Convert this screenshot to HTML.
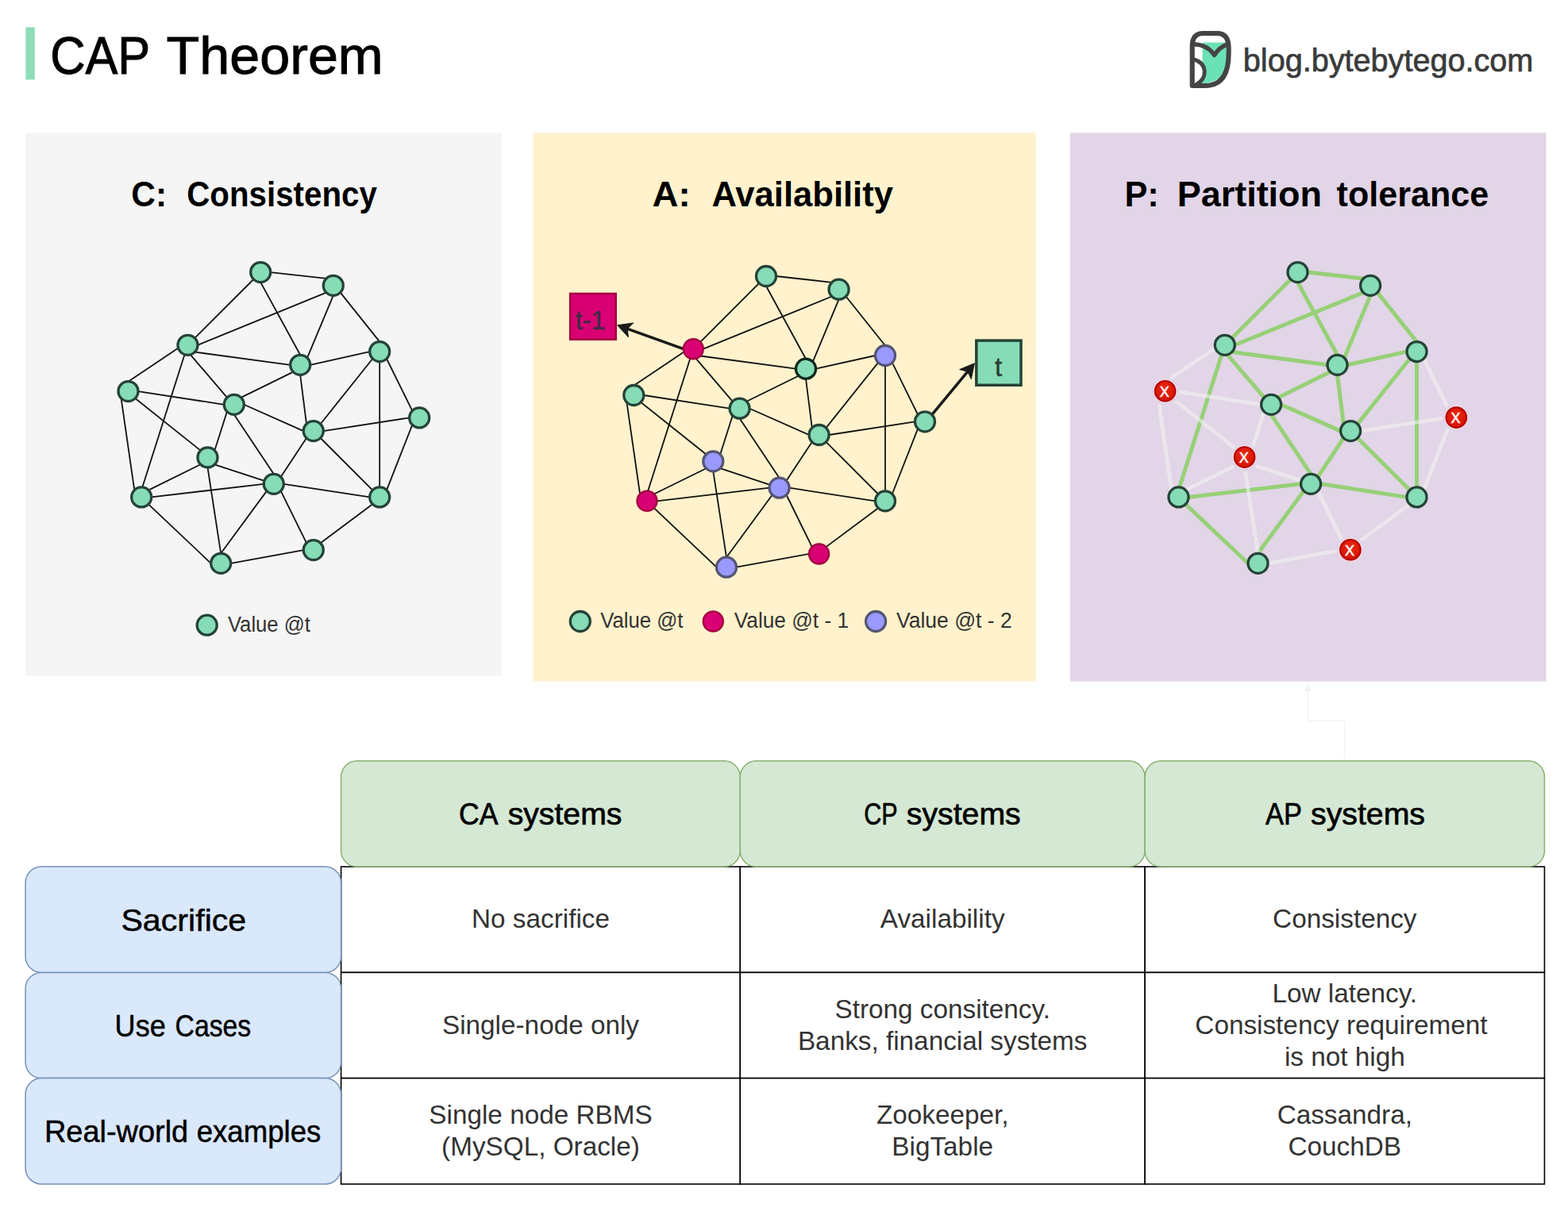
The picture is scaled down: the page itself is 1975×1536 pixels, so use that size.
<!DOCTYPE html>
<html lang="en"><head><meta charset="utf-8"><title>CAP Theorem</title>
<style>
html,body{margin:0;padding:0;background:#fff;}
body{width:1975px;height:1536px;overflow:hidden;font-family:"Liberation Sans",sans-serif;}
svg{display:block}
text{font-family:"Liberation Sans",sans-serif;}
</style></head><body>
<svg width="1975" height="1536" viewBox="0 0 1975 1536">
<defs>
<radialGradient id="redg" cx="50%" cy="40%" r="60%"><stop offset="0" stop-color="#f02a14"/><stop offset="1" stop-color="#d31200"/></radialGradient>
</defs>
<rect width="1975" height="1536" fill="#ffffff"/>

<rect x="32.4" y="34.4" width="11.4" height="66" fill="#8edcb8"/>
<text y="93.4" font-size="66" font-weight="normal" font-style="normal" fill="#000" stroke="#000" stroke-width="1.0"><tspan x="63.14" y="93.4" textLength="124.97" lengthAdjust="spacingAndGlyphs">CAP</tspan> <tspan x="209.57" y="93.4" textLength="273.15" lengthAdjust="spacingAndGlyphs">Theorem</tspan></text>
<g transform="translate(1485,30) scale(0.05862)">
<path d="M505 430 Q505 400 535 400 L1010 400 L1030 800 Q1010 1260 430 1300 Q640 1000 505 800 Z" fill="#6be2b5"/>
<path d="M285 1330 L285 480 Q285 205 520 205 L820 205 Q1068 205 1068 520 L1068 640 Q1068 1330 560 1330 Z" fill="none" stroke="#444" stroke-width="104" stroke-linejoin="round"/>
<path d="M320 440 Q620 450 760 675 Q860 510 1020 450" fill="none" stroke="#444" stroke-width="92" stroke-linejoin="round" stroke-linecap="round"/>
<path d="M320 765 Q545 830 550 1030 Q550 1200 380 1300" fill="none" stroke="#444" stroke-width="84" stroke-linecap="round"/>
</g>
<text y="89.6" font-size="40" font-weight="normal" font-style="normal" fill="#3a3a3a" stroke="#3a3a3a" stroke-width="0.7"><tspan x="1565.82" y="89.6" textLength="365.49" lengthAdjust="spacingAndGlyphs">blog.bytebytego.com</tspan></text>
<rect x="32.3" y="167.3" width="599.6" height="684.6" fill="#f5f5f5"/>
<rect x="672" y="167.3" width="632.6" height="691.3" fill="#fff2cc"/>
<rect x="1348" y="167.3" width="599.5" height="691.3" fill="#e1d5e7"/>
<text y="260" font-size="44" font-weight="bold" font-style="normal" fill="#000"><tspan x="165.34" y="260" textLength="44.78" lengthAdjust="spacingAndGlyphs">C:</tspan> <tspan x="235.28" y="260" textLength="239.59" lengthAdjust="spacingAndGlyphs">Consistency</tspan></text>
<text y="260" font-size="44" font-weight="bold" font-style="normal" fill="#000"><tspan x="821.46" y="260" textLength="48.21" lengthAdjust="spacingAndGlyphs">A:</tspan> <tspan x="896.51" y="260" textLength="228.48" lengthAdjust="spacingAndGlyphs">Availability</tspan></text>
<text y="260" font-size="44" font-weight="bold" font-style="normal" fill="#000"><tspan x="1416.43" y="260" textLength="43.31" lengthAdjust="spacingAndGlyphs">P:</tspan> <tspan x="1482.76" y="260" textLength="182.25" lengthAdjust="spacingAndGlyphs">Partition</tspan> <tspan x="1683.6" y="260" textLength="191.53" lengthAdjust="spacingAndGlyphs">tolerance</tspan></text>
<g stroke="#111" stroke-width="1.8" stroke-linecap="butt">
<line x1="340.7" y1="343.1" x2="411.0" y2="350.9"/>
<line x1="319.3" y1="352.0" x2="245.4" y2="425.9"/>
<line x1="328.2" y1="355.6" x2="378.2" y2="447.3"/>
<line x1="411.0" y1="368.6" x2="249.0" y2="434.8"/>
<line x1="419.8" y1="372.3" x2="387.0" y2="450.9"/>
<line x1="428.7" y1="368.6" x2="478.2" y2="430.6"/>
<line x1="245.4" y1="443.6" x2="365.7" y2="459.8"/>
<line x1="224.6" y1="438.6" x2="162.0" y2="480.6"/>
<line x1="239.8" y1="446.8" x2="286.0" y2="500.9"/>
<line x1="232.6" y1="446.6" x2="179.3" y2="613.9"/>
<line x1="390.7" y1="459.8" x2="465.7" y2="443.1"/>
<line x1="369.3" y1="468.6" x2="303.7" y2="500.9"/>
<line x1="378.2" y1="472.3" x2="386.0" y2="534.2"/>
<line x1="469.3" y1="452.0" x2="403.7" y2="534.2"/>
<line x1="487.0" y1="452.0" x2="519.3" y2="517.6"/>
<line x1="478.2" y1="455.6" x2="478.2" y2="613.9"/>
<line x1="174.0" y1="493.1" x2="282.3" y2="509.8"/>
<line x1="170.4" y1="502.0" x2="252.6" y2="567.6"/>
<line x1="152.6" y1="502.0" x2="169.3" y2="617.6"/>
<line x1="307.3" y1="509.8" x2="382.3" y2="543.1"/>
<line x1="286.0" y1="518.6" x2="270.4" y2="567.6"/>
<line x1="294.8" y1="522.3" x2="344.8" y2="597.3"/>
<line x1="407.3" y1="543.1" x2="515.7" y2="526.4"/>
<line x1="386.0" y1="552.0" x2="353.7" y2="600.9"/>
<line x1="403.7" y1="552.0" x2="469.3" y2="617.6"/>
<line x1="519.3" y1="535.3" x2="487.0" y2="617.6"/>
<line x1="270.4" y1="585.3" x2="333.0" y2="605.9"/>
<line x1="252.6" y1="585.3" x2="187.0" y2="617.6"/>
<line x1="261.5" y1="588.9" x2="278.2" y2="697.3"/>
<line x1="332.3" y1="609.8" x2="190.7" y2="626.4"/>
<line x1="357.3" y1="609.8" x2="465.7" y2="626.4"/>
<line x1="336.0" y1="618.6" x2="278.2" y2="697.3"/>
<line x1="353.7" y1="618.6" x2="386.0" y2="684.2"/>
<line x1="187.0" y1="635.3" x2="265.7" y2="709.8"/>
<line x1="469.3" y1="635.3" x2="403.7" y2="684.2"/>
<line x1="290.7" y1="709.8" x2="382.3" y2="693.1"/>
</g>
<circle cx="161.5" cy="493.1" r="12.5" fill="#86dcb6" stroke="#254338" stroke-width="3.33"/>
<circle cx="178.2" cy="626.4" r="12.5" fill="#86dcb6" stroke="#254338" stroke-width="3.33"/>
<circle cx="236.5" cy="434.8" r="12.5" fill="#86dcb6" stroke="#254338" stroke-width="3.33"/>
<circle cx="261.5" cy="576.4" r="12.5" fill="#86dcb6" stroke="#254338" stroke-width="3.33"/>
<circle cx="278.2" cy="709.8" r="12.5" fill="#86dcb6" stroke="#254338" stroke-width="3.33"/>
<circle cx="294.8" cy="509.8" r="12.5" fill="#86dcb6" stroke="#254338" stroke-width="3.33"/>
<circle cx="328.2" cy="343.1" r="12.5" fill="#86dcb6" stroke="#254338" stroke-width="3.33"/>
<circle cx="344.8" cy="609.8" r="12.5" fill="#86dcb6" stroke="#254338" stroke-width="3.33"/>
<circle cx="378.2" cy="459.8" r="12.5" fill="#86dcb6" stroke="#254338" stroke-width="3.33"/>
<circle cx="394.8" cy="543.1" r="12.5" fill="#86dcb6" stroke="#254338" stroke-width="3.33"/>
<circle cx="394.8" cy="693.1" r="12.5" fill="#86dcb6" stroke="#254338" stroke-width="3.33"/>
<circle cx="419.8" cy="359.8" r="12.5" fill="#86dcb6" stroke="#254338" stroke-width="3.33"/>
<circle cx="478.2" cy="443.1" r="12.5" fill="#86dcb6" stroke="#254338" stroke-width="3.33"/>
<circle cx="478.2" cy="626.4" r="12.5" fill="#86dcb6" stroke="#254338" stroke-width="3.33"/>
<circle cx="528.2" cy="526.4" r="12.5" fill="#86dcb6" stroke="#254338" stroke-width="3.33"/>
<line x1="861.5" y1="439.8" x2="789.8" y2="414.2" stroke="#1a1a1a" stroke-width="3.5"/><path d="M777.6 409.8 L797.7 406.9 L790.3 414.3 L791.4 424.8 Z" fill="#1a1a1a" stroke="#1a1a1a" stroke-width="1" stroke-linejoin="miter"/>
<line x1="1174.0" y1="522.4" x2="1219.1" y2="467.8" stroke="#1a1a1a" stroke-width="3.5"/><path d="M1227.4 457.8 L1223.3 477.7 L1218.8 468.2 L1208.6 465.6 Z" fill="#1a1a1a" stroke="#1a1a1a" stroke-width="1" stroke-linejoin="miter"/>
<g stroke="#111" stroke-width="1.8" stroke-linecap="butt">
<line x1="977.5" y1="348.0" x2="1047.8" y2="355.8"/>
<line x1="956.1" y1="356.9" x2="882.2" y2="430.8"/>
<line x1="965.0" y1="360.5" x2="1015.0" y2="452.2"/>
<line x1="1047.8" y1="373.5" x2="885.8" y2="439.7"/>
<line x1="1056.6" y1="377.2" x2="1023.8" y2="455.8"/>
<line x1="1065.5" y1="373.5" x2="1115.0" y2="435.5"/>
<line x1="882.2" y1="448.5" x2="1002.5" y2="464.7"/>
<line x1="861.4" y1="443.5" x2="798.8" y2="485.5"/>
<line x1="876.5" y1="451.7" x2="922.8" y2="505.8"/>
<line x1="869.4" y1="451.5" x2="816.1" y2="618.8"/>
<line x1="1027.5" y1="464.7" x2="1102.5" y2="448.0"/>
<line x1="1006.1" y1="473.5" x2="940.5" y2="505.8"/>
<line x1="1015.0" y1="477.2" x2="1022.8" y2="539.1"/>
<line x1="1106.1" y1="456.9" x2="1040.5" y2="539.1"/>
<line x1="1123.8" y1="456.9" x2="1156.1" y2="522.5"/>
<line x1="1115.0" y1="460.5" x2="1115.0" y2="618.8"/>
<line x1="810.8" y1="498.0" x2="919.1" y2="514.7"/>
<line x1="807.2" y1="506.9" x2="889.4" y2="572.5"/>
<line x1="789.4" y1="506.9" x2="806.1" y2="622.5"/>
<line x1="944.1" y1="514.7" x2="1019.1" y2="548.0"/>
<line x1="922.8" y1="523.5" x2="907.2" y2="572.5"/>
<line x1="931.6" y1="527.2" x2="981.6" y2="602.2"/>
<line x1="1044.1" y1="548.0" x2="1152.5" y2="531.3"/>
<line x1="1022.8" y1="556.9" x2="990.5" y2="605.8"/>
<line x1="1040.5" y1="556.9" x2="1106.1" y2="622.5"/>
<line x1="1156.1" y1="540.2" x2="1123.8" y2="622.5"/>
<line x1="907.2" y1="590.2" x2="969.8" y2="610.8"/>
<line x1="889.4" y1="590.2" x2="823.8" y2="622.5"/>
<line x1="898.3" y1="593.8" x2="915.0" y2="702.2"/>
<line x1="969.1" y1="614.7" x2="827.5" y2="631.3"/>
<line x1="994.1" y1="614.7" x2="1102.5" y2="631.3"/>
<line x1="972.8" y1="623.5" x2="915.0" y2="702.2"/>
<line x1="990.5" y1="623.5" x2="1022.8" y2="689.1"/>
<line x1="823.8" y1="640.2" x2="902.5" y2="714.7"/>
<line x1="1106.1" y1="640.2" x2="1040.5" y2="689.1"/>
<line x1="927.5" y1="714.7" x2="1019.1" y2="698.0"/>
</g>
<circle cx="798.3" cy="498.0" r="12.5" fill="#86dcb6" stroke="#254338" stroke-width="3.33"/>
<circle cx="815.0" cy="631.3" r="12.5" fill="#d80073" stroke="#a50040" stroke-width="2.4"/>
<circle cx="873.3" cy="439.7" r="12.5" fill="#d80073" stroke="#a50040" stroke-width="2.4"/>
<circle cx="898.3" cy="581.3" r="12.5" fill="#9999ff" stroke="#555573" stroke-width="3.3"/>
<circle cx="915.0" cy="714.7" r="12.5" fill="#9999ff" stroke="#555573" stroke-width="3.3"/>
<circle cx="931.6" cy="514.7" r="12.5" fill="#86dcb6" stroke="#254338" stroke-width="3.33"/>
<circle cx="965.0" cy="348.0" r="12.5" fill="#86dcb6" stroke="#254338" stroke-width="3.33"/>
<circle cx="981.6" cy="614.7" r="12.5" fill="#9999ff" stroke="#555573" stroke-width="3.3"/>
<circle cx="1015.0" cy="464.7" r="12.5" fill="#86dcb6" stroke="#10281d" stroke-width="3.33"/>
<circle cx="1031.6" cy="548.0" r="12.5" fill="#86dcb6" stroke="#254338" stroke-width="3.33"/>
<circle cx="1031.6" cy="698.0" r="12.5" fill="#d80073" stroke="#a50040" stroke-width="2.4"/>
<circle cx="1056.6" cy="364.7" r="12.5" fill="#86dcb6" stroke="#254338" stroke-width="3.33"/>
<circle cx="1115.0" cy="448.0" r="12.5" fill="#9999ff" stroke="#555573" stroke-width="3.3"/>
<circle cx="1115.0" cy="631.3" r="12.5" fill="#86dcb6" stroke="#254338" stroke-width="3.33"/>
<circle cx="1165.0" cy="531.3" r="12.5" fill="#86dcb6" stroke="#254338" stroke-width="3.33"/>
<rect x="718.2" y="370" width="57.5" height="57.7" fill="#d80073" stroke="#a50040" stroke-width="2.6"/>
<text x="743.6" y="414.8" font-size="32.5" text-anchor="middle" font-weight="normal" font-style="normal" fill="#3f2a45" stroke="#3f2a45" stroke-width="0.5">t-1</text>
<rect x="1229.8" y="429.1" width="56.2" height="56.2" fill="#86dcb6" stroke="#254338" stroke-width="3.5"/>
<text x="1257.6" y="473.5" font-size="33" text-anchor="middle" font-weight="normal" font-style="normal" fill="#2a4036" stroke="#2a4036" stroke-width="0.5">t</text>
<g stroke="#97d077" stroke-width="5">
<line x1="1647.0" y1="343.1" x2="1717.3" y2="350.9"/>
<line x1="1625.6" y1="352.0" x2="1551.7" y2="425.9"/>
<line x1="1634.5" y1="355.6" x2="1684.5" y2="447.3"/>
<line x1="1717.3" y1="368.6" x2="1555.3" y2="434.8"/>
<line x1="1726.1" y1="372.3" x2="1693.3" y2="450.9"/>
<line x1="1735.0" y1="368.6" x2="1784.5" y2="430.6"/>
<line x1="1551.7" y1="443.6" x2="1672.0" y2="459.8"/>
<line x1="1546.0" y1="446.8" x2="1592.3" y2="500.9"/>
<line x1="1538.9" y1="446.6" x2="1485.6" y2="613.9"/>
<line x1="1697.0" y1="459.8" x2="1772.0" y2="443.1"/>
<line x1="1675.6" y1="468.6" x2="1610.0" y2="500.9"/>
<line x1="1684.5" y1="472.3" x2="1692.3" y2="534.2"/>
<line x1="1775.6" y1="452.0" x2="1710.0" y2="534.2"/>
<line x1="1784.5" y1="455.6" x2="1784.5" y2="613.9"/>
<line x1="1613.6" y1="509.8" x2="1688.6" y2="543.1"/>
<line x1="1601.1" y1="522.3" x2="1651.1" y2="597.3"/>
<line x1="1692.3" y1="552.0" x2="1660.0" y2="600.9"/>
<line x1="1710.0" y1="552.0" x2="1775.6" y2="617.6"/>
<line x1="1638.6" y1="609.8" x2="1497.0" y2="626.4"/>
<line x1="1663.6" y1="609.8" x2="1772.0" y2="626.4"/>
<line x1="1642.3" y1="618.6" x2="1584.5" y2="697.3"/>
<line x1="1493.3" y1="635.3" x2="1572.0" y2="709.8"/>
</g>
<g stroke="#f2f2f2" stroke-width="4.8" stroke-opacity="0.6">
<line x1="1530.9" y1="438.6" x2="1474.1" y2="476.7"/>
<line x1="1793.3" y1="452.0" x2="1823.3" y2="512.9"/>
<line x1="1485.3" y1="493.9" x2="1588.6" y2="509.8"/>
<line x1="1480.6" y1="505.1" x2="1555.0" y2="564.4"/>
<line x1="1459.9" y1="508.8" x2="1475.6" y2="617.6"/>
<line x1="1592.3" y1="518.6" x2="1578.3" y2="562.4"/>
<line x1="1713.6" y1="543.1" x2="1816.9" y2="527.2"/>
<line x1="1823.7" y1="540.2" x2="1793.3" y2="617.6"/>
<line x1="1581.8" y1="587.0" x2="1639.3" y2="605.9"/>
<line x1="1554.3" y1="587.6" x2="1493.3" y2="617.6"/>
<line x1="1568.6" y1="594.0" x2="1584.5" y2="697.3"/>
<line x1="1660.0" y1="618.6" x2="1690.0" y2="679.6"/>
<line x1="1775.6" y1="635.3" x2="1714.0" y2="681.2"/>
<line x1="1597.0" y1="709.8" x2="1683.6" y2="694.0"/>
</g>
<circle cx="1467.6" cy="492.8" r="14.4" fill="none" stroke="#ffd9d9" stroke-opacity="0.7" stroke-width="1.2"/><circle cx="1467.6" cy="492.8" r="12.8" fill="url(#redg)" stroke="#b20000" stroke-width="2"/>
<text x="1466.8" y="499.9" text-anchor="middle" font-size="18" fill="#ffffff" stroke="#ffffff" stroke-width="0.5">X</text>
<circle cx="1484.5" cy="626.4" r="12.5" fill="#86dcb6" stroke="#254338" stroke-width="3.33"/>
<circle cx="1542.8" cy="434.8" r="12.5" fill="#86dcb6" stroke="#254338" stroke-width="3.33"/>
<circle cx="1567.6" cy="576.1" r="14.4" fill="none" stroke="#ffd9d9" stroke-opacity="0.7" stroke-width="1.2"/><circle cx="1567.6" cy="576.1" r="12.8" fill="url(#redg)" stroke="#b20000" stroke-width="2"/>
<text x="1566.8" y="583.2" text-anchor="middle" font-size="18" fill="#ffffff" stroke="#ffffff" stroke-width="0.5">X</text>
<circle cx="1584.5" cy="709.8" r="12.5" fill="#86dcb6" stroke="#254338" stroke-width="3.33"/>
<circle cx="1601.1" cy="509.8" r="12.5" fill="#86dcb6" stroke="#254338" stroke-width="3.33"/>
<circle cx="1634.5" cy="343.1" r="12.5" fill="#86dcb6" stroke="#254338" stroke-width="3.33"/>
<circle cx="1651.1" cy="609.8" r="12.5" fill="#86dcb6" stroke="#254338" stroke-width="3.33"/>
<circle cx="1684.5" cy="459.8" r="12.5" fill="#86dcb6" stroke="#254338" stroke-width="3.33"/>
<circle cx="1701.1" cy="543.1" r="12.5" fill="#86dcb6" stroke="#254338" stroke-width="3.33"/>
<circle cx="1700.9" cy="692.8" r="14.4" fill="none" stroke="#ffd9d9" stroke-opacity="0.7" stroke-width="1.2"/><circle cx="1700.9" cy="692.8" r="12.8" fill="url(#redg)" stroke="#b20000" stroke-width="2"/>
<text x="1700.1" y="699.9" text-anchor="middle" font-size="18" fill="#ffffff" stroke="#ffffff" stroke-width="0.5">X</text>
<circle cx="1726.1" cy="359.8" r="12.5" fill="#86dcb6" stroke="#254338" stroke-width="3.33"/>
<circle cx="1784.5" cy="443.1" r="12.5" fill="#86dcb6" stroke="#254338" stroke-width="3.33"/>
<circle cx="1784.5" cy="626.4" r="12.5" fill="#86dcb6" stroke="#254338" stroke-width="3.33"/>
<circle cx="1834.3" cy="526.1" r="14.4" fill="none" stroke="#ffd9d9" stroke-opacity="0.7" stroke-width="1.2"/><circle cx="1834.3" cy="526.1" r="12.8" fill="url(#redg)" stroke="#b20000" stroke-width="2"/>
<text x="1833.5" y="533.2" text-anchor="middle" font-size="18" fill="#ffffff" stroke="#ffffff" stroke-width="0.5">X</text>
<circle cx="260.7" cy="787.7" r="12.5" fill="#86dcb6" stroke="#254338" stroke-width="3.33"/><text y="795.7" font-size="27" font-weight="normal" font-style="normal" fill="#333"><tspan x="286.9" y="795.7" textLength="104.09" lengthAdjust="spacingAndGlyphs">Value @t</tspan></text>
<circle cx="730.8" cy="783.0" r="12.5" fill="#86dcb6" stroke="#254338" stroke-width="3.33"/><text y="791.0" font-size="27" font-weight="normal" font-style="normal" fill="#333"><tspan x="756.2" y="791.0" textLength="104.29" lengthAdjust="spacingAndGlyphs">Value @t</tspan></text>
<circle cx="898.3" cy="783.0" r="12.5" fill="#d80073" stroke="#a50040" stroke-width="2.4"/><text y="791.0" font-size="27" font-weight="normal" font-style="normal" fill="#333"><tspan x="924.8" y="791.0" textLength="144.27" lengthAdjust="spacingAndGlyphs">Value @t - 1</tspan></text>
<circle cx="1103.1" cy="783.0" r="12.5" fill="#9999ff" stroke="#555573" stroke-width="3.3"/><text y="791.0" font-size="27" font-weight="normal" font-style="normal" fill="#333"><tspan x="1129.0" y="791.0" textLength="145.68" lengthAdjust="spacingAndGlyphs">Value @t - 2</tspan></text>
<path d="M1693.4 958 L1693.4 908.3 L1647.1 908.3 L1647.1 866" fill="none" stroke="#f4f4f4" stroke-width="1.5"/><path d="M1647.1 860 L1651.5 871 L1642.7 871 Z" fill="#f2f2f2"/>
<g fill="#ffffff" stroke="#000" stroke-width="1.6">
<rect x="429.6" y="1092.1" width="502.7" height="133.3"/>
<rect x="932.3" y="1092.1" width="509.8" height="133.3"/>
<rect x="1442.1" y="1092.1" width="503.3" height="133.3"/>
<rect x="429.6" y="1225.4" width="502.7" height="133.2"/>
<rect x="932.3" y="1225.4" width="509.8" height="133.2"/>
<rect x="1442.1" y="1225.4" width="503.3" height="133.2"/>
<rect x="429.6" y="1358.6" width="502.7" height="133.4"/>
<rect x="932.3" y="1358.6" width="509.8" height="133.4"/>
<rect x="1442.1" y="1358.6" width="503.3" height="133.4"/>
</g>
<g fill="#d5e8d4" stroke="#88b070" stroke-width="1.5">
<rect x="429.6" y="958.8" width="502.7" height="133.3" rx="20" ry="20"/>
<rect x="932.3" y="958.8" width="509.8" height="133.3" rx="20" ry="20"/>
<rect x="1442.1" y="958.8" width="503.3" height="133.3" rx="20" ry="20"/>
</g>
<g fill="#dae8fc" stroke="#7590ba" stroke-width="1.5">
<rect x="32.1" y="1092.1" width="397.5" height="133.3" rx="20" ry="20"/>
<rect x="32.1" y="1225.4" width="397.5" height="133.2" rx="20" ry="20"/>
<rect x="32.1" y="1358.6" width="397.5" height="133.4" rx="20" ry="20"/>
</g>
<text y="1039" font-size="38" font-weight="normal" font-style="normal" fill="#000" stroke="#000" stroke-width="0.7"><tspan x="578.1" y="1039" textLength="47.52" lengthAdjust="spacingAndGlyphs">CA</tspan> <tspan x="639.67" y="1039" textLength="143.8" lengthAdjust="spacingAndGlyphs">systems</tspan></text>
<text y="1039" font-size="38" font-weight="normal" font-style="normal" fill="#000" stroke="#000" stroke-width="0.7"><tspan x="1088.21" y="1039" textLength="41.82" lengthAdjust="spacingAndGlyphs">CP</tspan> <tspan x="1141.87" y="1039" textLength="143.8" lengthAdjust="spacingAndGlyphs">systems</tspan></text>
<text y="1039" font-size="38" font-weight="normal" font-style="normal" fill="#000" stroke="#000" stroke-width="0.7"><tspan x="1594.0" y="1039" textLength="45.23" lengthAdjust="spacingAndGlyphs">AP</tspan> <tspan x="1651.07" y="1039" textLength="143.9" lengthAdjust="spacingAndGlyphs">systems</tspan></text>
<text y="1173.1" font-size="38" font-weight="normal" font-style="normal" fill="#000" stroke="#000" stroke-width="0.5"><tspan x="152.42" y="1173.1" textLength="157.86" lengthAdjust="spacingAndGlyphs">Sacrifice</tspan></text>
<text y="1305.9" font-size="38" font-weight="normal" font-style="normal" fill="#000" stroke="#000" stroke-width="0.5"><tspan x="144.6" y="1305.9" textLength="64.15" lengthAdjust="spacingAndGlyphs">Use</tspan> <tspan x="220.51" y="1305.9" textLength="95.73" lengthAdjust="spacingAndGlyphs">Cases</tspan></text>
<text y="1439.2" font-size="38" font-weight="normal" font-style="normal" fill="#000" stroke="#000" stroke-width="0.5"><tspan x="55.9" y="1439.2" textLength="181.32" lengthAdjust="spacingAndGlyphs">Real-world</tspan> <tspan x="247.74" y="1439.2" textLength="156.58" lengthAdjust="spacingAndGlyphs">examples</tspan></text>
<text x="681.0" y="1169.2" font-size="33.3" text-anchor="middle" font-weight="normal" font-style="normal" fill="#333" >No sacrifice</text>
<text x="1187.2" y="1169.2" font-size="33.3" text-anchor="middle" font-weight="normal" font-style="normal" fill="#333" >Availability</text>
<text x="1693.8" y="1169.2" font-size="33.3" text-anchor="middle" font-weight="normal" font-style="normal" fill="#333" >Consistency</text>
<text x="681.0" y="1302.5" font-size="33.3" text-anchor="middle" font-weight="normal" font-style="normal" fill="#333" >Single-node only</text>
<text x="1187.2" y="1282.5" font-size="33.3" text-anchor="middle" font-weight="normal" font-style="normal" fill="#333" >Strong consitency.</text>
<text x="1187.2" y="1322.5" font-size="33.3" text-anchor="middle" font-weight="normal" font-style="normal" fill="#333" >Banks, financial systems</text>
<text x="1693.8" y="1262.5" font-size="33.3" text-anchor="middle" font-weight="normal" font-style="normal" fill="#333" >Low latency.</text>
<text x="1689.5" y="1302.5" font-size="33.3" text-anchor="middle" font-weight="normal" font-style="normal" fill="#333" >Consistency requirement</text>
<text x="1693.8" y="1342.5" font-size="33.3" text-anchor="middle" font-weight="normal" font-style="normal" fill="#333" >is not high</text>
<text x="681.0" y="1415.8" font-size="33.3" text-anchor="middle" font-weight="normal" font-style="normal" fill="#333" >Single node RBMS</text>
<text x="681.0" y="1455.8" font-size="33.3" text-anchor="middle" font-weight="normal" font-style="normal" fill="#333" >(MySQL, Oracle)</text>
<text x="1187.2" y="1415.8" font-size="33.3" text-anchor="middle" font-weight="normal" font-style="normal" fill="#333" >Zookeeper,</text>
<text x="1187.2" y="1455.8" font-size="33.3" text-anchor="middle" font-weight="normal" font-style="normal" fill="#333" >BigTable</text>
<text x="1693.8" y="1415.8" font-size="33.3" text-anchor="middle" font-weight="normal" font-style="normal" fill="#333" >Cassandra,</text>
<text x="1693.8" y="1455.8" font-size="33.3" text-anchor="middle" font-weight="normal" font-style="normal" fill="#333" >CouchDB</text>
</svg></body></html>
